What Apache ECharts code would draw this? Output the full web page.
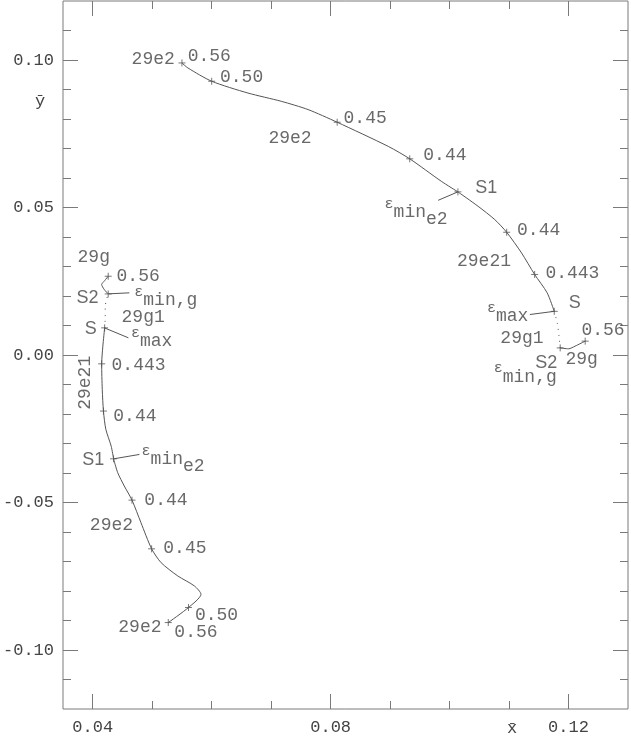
<!DOCTYPE html>
<html>
<head>
<meta charset="utf-8">
<script src="https://cdn.jsdelivr.net/npm/echarts@6/dist/echarts.min.js"></script>
<style>
html, body { margin: 0; padding: 0; background: #fff; }
#chart { width: 631px; height: 736px; }
</style>
</head>
<body>
<div id="chart"></div>
<script>
// axis ranges and ticks
const xRange = [0.035, 0.13]
const yRange = [-0.12, 0.12]
const xMajorTicks = [0.04, 0.08, 0.12]
const xMinorTicks = [0.05, 0.06, 0.07, 0.09, 0.10, 0.11]
const yMajorTicks = [-0.10, -0.05, 0, 0.05, 0.10]
const yMinorTicks = [-0.11, -0.09, -0.08, -0.07, -0.06, -0.04, -0.03, -0.02, -0.01,
  0.01, 0.02, 0.03, 0.04, 0.06, 0.07, 0.08, 0.09, 0.11]

// upper branch: 29e2 (0.56 -> S1), 29e21 (S1 -> S), 29g1 dotted (S -> S2), 29g (S2 -> 0.56)
const e2Upper = [[0.0550, 0.0990], [0.0560, 0.0973], [0.0600, 0.0928], [0.0661, 0.0888], [0.0717, 0.0860],
  [0.0762, 0.0832], [0.0811, 0.0789], [0.0897, 0.0707], [0.0933, 0.0665], [0.0986, 0.0589], [0.1014, 0.0553]]
const e21Upper = [[0.1014, 0.0553], [0.1048, 0.0504], [0.1076, 0.0459], [0.1096, 0.0416], [0.1121, 0.0346],
  [0.1143, 0.0273], [0.1164, 0.0211], [0.1176, 0.0148]]
const g1Upper = [[0.1176, 0.0148], [0.1181, 0.0109], [0.1184, 0.0064], [0.1186, 0.0024]]
const gUpper = [[0.1186, 0.0024], [0.1200, 0.0021], [0.1211, 0.0030], [0.1228, 0.0047]]

// lower branch
const e2Lower = [[0.0527, -0.0907], [0.0561, -0.0856], [0.0582, -0.0811], [0.0571, -0.0783], [0.0543, -0.0749],
  [0.0515, -0.0704], [0.0499, -0.0657], [0.0481, -0.0568], [0.0466, -0.0492], [0.0453, -0.0444],
  [0.0442, -0.0399], [0.0435, -0.0352]]
const e21Lower = [[0.0435, -0.0352], [0.0431, -0.0309], [0.0422, -0.0252], [0.0418, -0.0190], [0.0416, -0.0117],
  [0.0415, -0.0030], [0.0417, 0.0030], [0.0420, 0.0092]]
const g1Lower = [[0.0420, 0.0092], [0.0421, 0.0126], [0.0421, 0.0165], [0.0426, 0.0207]]
const gLower = [[0.0426, 0.0207], [0.0419, 0.0223], [0.0415, 0.0239], [0.0420, 0.0252], [0.0426, 0.0267]]

// "+" marks on the curves
const marks = [[0.0550, 0.0990], [0.0600, 0.0928], [0.0811, 0.0789], [0.0933, 0.0665], [0.1014, 0.0553],
  [0.1096, 0.0416], [0.1143, 0.0273], [0.1176, 0.0148], [0.1186, 0.0024], [0.1228, 0.0047],
  [0.0426, 0.0267], [0.0426, 0.0207], [0.0420, 0.0092], [0.0415, -0.0030], [0.0418, -0.0190],
  [0.0435, -0.0352], [0.0466, -0.0492], [0.0499, -0.0657], [0.0561, -0.0856], [0.0527, -0.0907]]

// text notes, anchored at left / middle of the text
const notes = [
  [0.04645, 0.1001, '29e2'], [0.05588, 0.1012, '0.56'], [0.06131, 0.0942, '0.50'],
  [0.06946, 0.0736, '29e2'], [0.08209, 0.0804, '0.45'], [0.09550, 0.06765, '0.44'],
  [0.11126, 0.04224, '0.44'], [0.10116, 0.03178, '29e21'], [0.11603, 0.02785, '0.443'],
  [0.10845, 0.00583, '29g1'], [0.12209, 0.00837, '0.56'], [0.11939, -0.00152, '29g'],
  [0.03736, 0.03320, '29g'], [0.04392, 0.02669, '0.56'], [0.04476, 0.01287, '29g1'],
  [0.04308, -0.00349, '0.443'], [0.04337, -0.02073, '0.44'], [0.04859, -0.04922, '0.44'],
  [0.03943, -0.05786, '29e2'], [0.05178, -0.06562, '0.45'], [0.05710, -0.08834, '0.50'],
  [0.04421, -0.09241, '29e2'], [0.05364, -0.09411, '0.56']
]
const verticalNotes = [[0.03867, -0.00942, '29e21']]
const pointNames = [[0.10424, 0.05667, 'S1'], [0.11997, 0.01768, 'S'], [0.11434, -0.00264, 'S2'],
  [0.03719, 0.01948, 'S2'], [0.03859, 0.00891, 'S'], [0.03815, -0.03567, 'S1']]
const epsNotes = [[0.08899, 0.04844, 'min', 'e2'], [0.10621, 0.01314, 'max', ''], [0.10734, -0.00745, 'min,g', ''],
  [0.04690, 0.01853, 'min,g', ''], [0.04633, 0.00457, 'max', ''], [0.04813, -0.0354, 'min', 'e2']]
const leaders = [
  [[0.09808, 0.05244], [0.1014, 0.0553]],
  [[0.11350, 0.01372], [0.1176, 0.0148]],
  [[0.04599, 0.00583], [0.04195, 0.00921]],
  [[0.04616, 0.02107], [0.04263, 0.02073]],
  [[0.04785, -0.03371], [0.0435, -0.0352]]
]

const mono = 'Liberation Mono'
const sans = 'Liberation Sans'
const ink = '#444'
const frame = '#7a7a7a'
const curve = '#555'

function xAxis(pos, ticks, len, labels) {
  return {
    type: 'value', position: pos, min: xRange[0], max: xRange[1],
    axisLine: { show: false, onZero: false }, splitLine: { show: false },
    axisTick: { inside: true, length: len, customValues: ticks, lineStyle: { color: frame } },
    axisLabel: labels
      ? { customValues: ticks, formatter: v => v.toFixed(2), margin: 10, fontFamily: mono, fontSize: 17, color: ink }
      : { show: false }
  }
}
function yAxis(pos, ticks, len, labels) {
  return {
    type: 'value', position: pos, min: yRange[0], max: yRange[1],
    axisLine: { show: false, onZero: false }, splitLine: { show: false },
    axisTick: { inside: true, length: len, customValues: ticks, lineStyle: { color: frame } },
    axisLabel: labels
      ? { customValues: ticks, formatter: v => v.toFixed(2), margin: 9, fontFamily: mono, fontSize: 17, color: ink }
      : { show: false }
  }
}
function curveSeries(data, dotted) {
  return {
    type: 'line', data: data, showSymbol: false, smooth: 0.25, silent: true,
    lineStyle: { color: curve, width: 1, type: dotted ? [1, 5] : 'solid' }
  }
}
function textSeries(data, font, size, extra) {
  return {
    type: 'scatter', symbolSize: 1, silent: true,
    itemStyle: { color: 'rgba(0,0,0,0)' },
    data: data.map(d => ({ value: [d[0], d[1]], name: d[2] })),
    label: Object.assign({ show: true, position: 'right', distance: 0, formatter: p => p.name,
      fontFamily: font, fontSize: size, color: ink }, extra || {})
  }
}

const series = [
  curveSeries(e2Upper), curveSeries(e21Upper), curveSeries(g1Upper, true), curveSeries(gUpper),
  curveSeries(e2Lower), curveSeries(e21Lower), curveSeries(g1Lower, true), curveSeries(gLower)
]
leaders.forEach(l => series.push({
  type: 'line', data: l, showSymbol: false, silent: true, lineStyle: { color: curve, width: 1 }
}))
series.push({
  type: 'scatter', data: marks, silent: true,
  symbol: 'path://M5,0V10M0,5H10', symbolSize: 7,
  itemStyle: { color: 'none', borderColor: curve, borderWidth: 1 }
})
series.push(textSeries(notes, mono, 18))
series.push(textSeries(verticalNotes, mono, 18, { position: 'inside', rotate: 90, align: 'center', verticalAlign: 'middle' }))
series.push(textSeries(pointNames, sans, 18))
series.push({
  type: 'scatter', symbolSize: 1, silent: true,
  itemStyle: { color: 'rgba(0,0,0,0)' },
  data: epsNotes.map(d => ({ value: [d[0], d[1]], name: d[2] + '|' + d[3] })),
  label: {
    show: true, position: 'right', distance: 0, color: ink,
    formatter: p => {
      const parts = p.name.split('|')
      return '{e|ε}{m|' + parts[0] + '}' + (parts[1] ? '{s|' + parts[1] + '}' : '')
    },
    lineHeight: 32,
    rich: {
      e: { fontFamily: mono, fontSize: 15, color: ink, verticalAlign: 'top' },
      m: { fontFamily: mono, fontSize: 18, color: ink, verticalAlign: 'middle' },
      s: { fontFamily: mono, fontSize: 18, color: ink, verticalAlign: 'bottom' }
    }
  }
})

const chart = echarts.init(document.getElementById('chart'))
chart.setOption({
  animation: false,
  backgroundColor: '#fff',
  grid: { left: 62, right: 3, top: 1, bottom: 26, show: true, borderColor: frame, borderWidth: 1 },
  xAxis: [xAxis('bottom', xMajorTicks, 15, true), xAxis('bottom', xMinorTicks, 8, false),
    xAxis('top', xMajorTicks, 15, false), xAxis('top', xMinorTicks, 8, false)],
  yAxis: [yAxis('left', yMajorTicks, 15, true), yAxis('left', yMinorTicks, 8, false),
    yAxis('right', yMajorTicks, 15, false), yAxis('right', yMinorTicks, 8, false)],
  graphic: [
    { type: 'text', left: 35, top: 93, style: { text: 'ȳ', font: '17px "Liberation Mono"', fill: ink } },
    { type: 'text', left: 507, top: 720, style: { text: 'x\u0304', font: '17px "Liberation Mono"', fill: ink } }
  ],
  series: series
})
</script>
</body>
</html>
